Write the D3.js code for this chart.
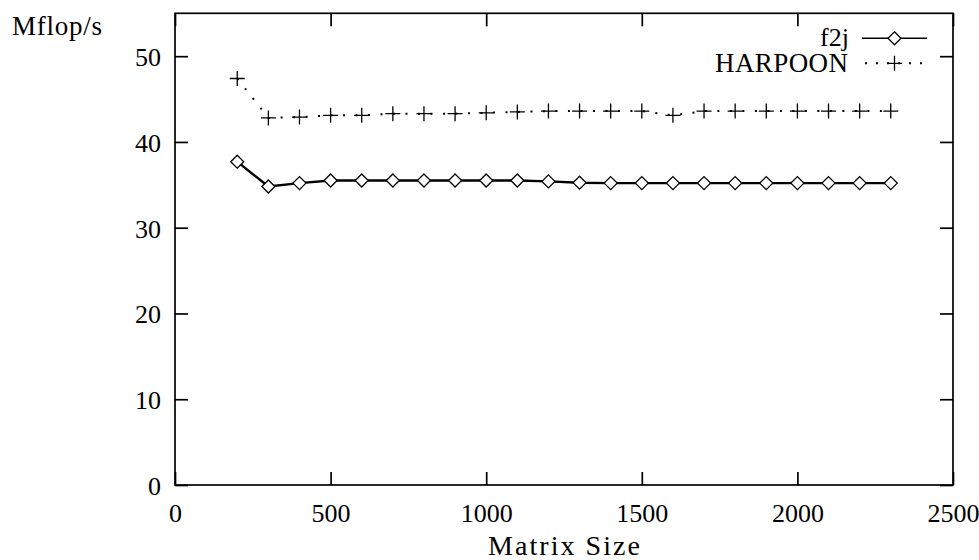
<!DOCTYPE html>
<html>
<head>
<meta charset="utf-8">
<script src="https://cdn.jsdelivr.net/npm/d3@7"></script>
<style>
  html, body { margin: 0; padding: 0; background: #fff; }
  svg { display: block; }
  text { font-family: "Liberation Serif", "DejaVu Serif", serif; fill: #000; }
</style>
</head>
<body>
<svg id="chart" width="979" height="560"></svg>
<script>
// ---- data ----
const sizes = [200,300,400,500,600,700,800,900,1000,1100,1200,1300,1400,1500,1600,1700,1800,1900,2000,2100,2200,2300];
const f2j = [37.7,34.8,35.2,35.5,35.5,35.5,35.5,35.5,35.5,35.5,35.4,35.25,35.2,35.2,35.2,35.2,35.2,35.2,35.2,35.2,35.2,35.2];
const harpoon = [47.4,42.8,42.9,43.1,43.1,43.3,43.3,43.3,43.4,43.5,43.6,43.6,43.6,43.6,43.1,43.6,43.6,43.6,43.6,43.6,43.6,43.6];
const xTicks = [0,500,1000,1500,2000,2500];
const yTicks = [0,10,20,30,40,50];
const seriesNames = ["f2j","HARPOON"];
const xLabel = "Matrix Size";
const yLabel = "Mflop/s";

// ---- layout ----
const L = 175, R = 953, T = 13.3, B = 485;
const svg = d3.select("#chart");
const x = d3.scaleLinear().domain([0,2500]).range([L,R]);
const y = d3.scaleLinear().domain([0,55]).range([B,T]);
const fs = 26, tickLen = 13, sw = 1.7;

// axes with inward ticks (mirrored on all four sides)
function styleAxis(g){
  g.select(".domain").remove();
  g.selectAll(".tick line").attr("stroke","#000").attr("stroke-width",sw);
}
const gB = svg.append("g").attr("transform",`translate(0,${B})`)
  .call(d3.axisBottom(x).tickValues(xTicks).tickSize(-tickLen).tickFormat(d3.format("d")));
styleAxis(gB);
gB.selectAll(".tick text").attr("y",37).attr("dy",0).attr("font-size",fs).attr("font-family","Liberation Serif").attr("fill","#000");

const gT = svg.append("g").attr("transform",`translate(0,${T})`)
  .call(d3.axisTop(x).tickValues(xTicks).tickSize(-tickLen).tickFormat(""));
styleAxis(gT);

const gL = svg.append("g").attr("transform",`translate(${L},0)`)
  .call(d3.axisLeft(y).tickValues(yTicks).tickSize(-tickLen).tickFormat(d3.format("d")));
styleAxis(gL);
gL.selectAll(".tick text").attr("x",-14).attr("dy",9.5).attr("font-size",fs).attr("font-family","Liberation Serif").attr("fill","#000").attr("text-anchor","end");

const gR = svg.append("g").attr("transform",`translate(${R},0)`)
  .call(d3.axisRight(y).tickValues(yTicks).tickSize(-tickLen).tickFormat(""));
styleAxis(gR);

// border
svg.append("rect").attr("x",L).attr("y",T).attr("width",R-L).attr("height",B-T)
  .attr("fill","none").attr("stroke","#000").attr("stroke-width",sw);

// axis labels
svg.append("text").attr("x",12).attr("y",35).attr("font-size",27)
  .attr("textLength",90).attr("lengthAdjust","spacing").text(yLabel);
svg.append("text").attr("x",(L+R)/2 - 76).attr("y",555).attr("font-size",28)
  .attr("textLength",152).attr("lengthAdjust","spacing").text(xLabel);

// series
const line = d3.line().x((d,i)=>x(sizes[i])).y(d=>y(d));
svg.append("path").datum(harpoon).attr("d",line).attr("fill","none")
  .attr("stroke","#000").attr("stroke-width",2).attr("stroke-dasharray","2,10.5");
svg.append("path").datum(f2j).attr("d",line).attr("fill","none")
  .attr("stroke","#000").attr("stroke-width",2.4);

const dS = 6.5, pS = 7.5;
function diamond(g,cx,cy){
  g.append("path").attr("d",`M${cx},${cy-dS}L${cx+dS},${cy}L${cx},${cy+dS}L${cx-dS},${cy}Z`)
    .attr("fill","#fff").attr("stroke","#000").attr("stroke-width",1.3);
}
function plus(g,cx,cy){
  g.append("path").attr("d",`M${cx-pS},${cy}H${cx+pS}M${cx},${cy-pS}V${cy+pS}`)
    .attr("fill","none").attr("stroke","#000").attr("stroke-width",1.3);
}
const gM = svg.append("g");
harpoon.forEach((v,i)=>plus(gM,x(sizes[i]),y(v)));
f2j.forEach((v,i)=>diamond(gM,x(sizes[i]),y(v)));

// legend
const lg = svg.append("g");
const lx0 = 862, lx1 = 927, lmid = (lx0+lx1)/2;
lg.append("text").attr("x",849).attr("y",46).attr("text-anchor","end").attr("font-size",fs).text(seriesNames[0]);
lg.append("line").attr("x1",lx0).attr("x2",lx1).attr("y1",38.3).attr("y2",38.3)
  .attr("stroke","#000").attr("stroke-width",1.4);
diamond(lg,lmid,38.3);
lg.append("text").attr("x",715).attr("y",71.5).attr("font-size",27)
  .attr("textLength",133).attr("lengthAdjust","spacing").text(seriesNames[1]);
lg.append("line").attr("x1",lx0+3).attr("x2",lx1).attr("y1",63.3).attr("y2",63.3)
  .attr("stroke","#000").attr("stroke-width",2).attr("stroke-dasharray","2,9");
plus(lg,lmid,63.3);
</script>
</body>
</html>
